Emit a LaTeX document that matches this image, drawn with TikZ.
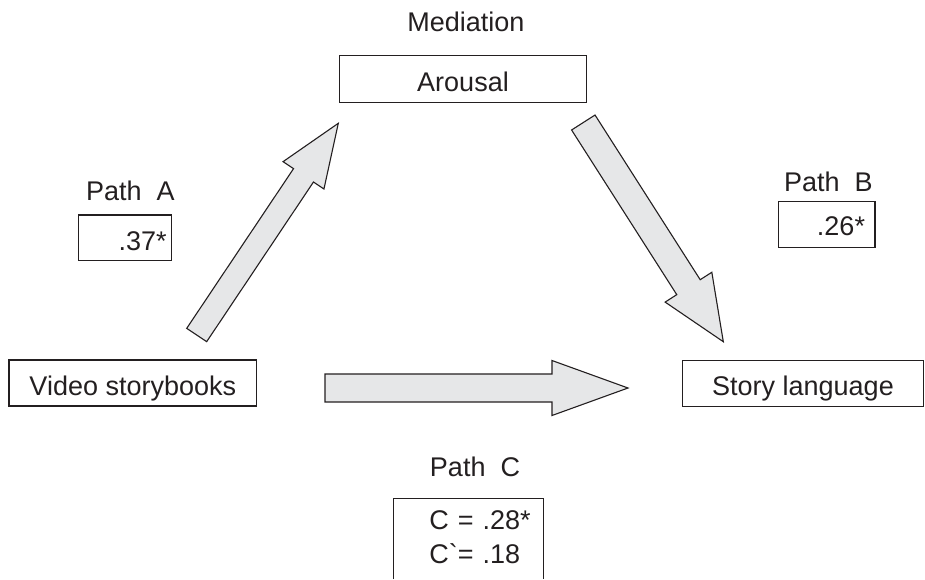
\documentclass[tikz,border=0pt]{standalone}
\usepackage{fontspec}
\setmainfont{Liberation Sans}[Ligatures=TeXOff]
\usetikzlibrary{calc}
\definecolor{arrowfill}{HTML}{E6E7E8}
\definecolor{ink}{HTML}{231F20}
% tail, tip, shaft half-width, head half-width, head length
\newcommand{\blockarrow}[5]{%
  \coordinate (bh) at ($(#2)!#5!(#1)$);
  \draw[blockarr] ($(#1)!#3!90:(#2)$) -- ($(bh)!#3!90:(#2)$) -- ($(bh)!#4!90:(#2)$) -- (#2)
    -- ($(bh)!#4!-90:(#2)$) -- ($(bh)!#3!-90:(#2)$) -- ($(#1)!#3!-90:(#2)$) -- cycle;}
\tikzset{
  every node/.style={font=\fontsize{27pt}{33.3pt}\selectfont, text=ink},
  box/.style={draw=ink, line width=1.3pt, inner sep=0pt},
  boxline/.style={draw=ink, line width=1.3pt},
  lbl/.style={inner sep=0pt, anchor=base},
  blockarr/.style={draw=ink, fill=arrowfill, line width=1.1pt, line join=miter}
}
\begin{document}
\begin{tikzpicture}[x=1pt,y=-1pt]
\useasboundingbox (0,0) rectangle (925,579);
% labels
\node[lbl] (med) at (465.8,31.7) {Mediation};
\node[lbl] (pathA) at (130.3,200) {Path~~A};
\node[lbl] (pathB) at (828.3,191.7) {Path~~B};
\node[lbl] (pathC) at (475,476.7) {Path~~C};
% boxes
\node[box, anchor=base, minimum width=247.7pt, text height=35pt, text depth=11pt] (video) at (132.8,395) {Video storybooks};
\node[box, anchor=base, minimum width=247.4pt, text height=36pt, text depth=10.6pt] (arousal) at (463,91.7) {Arousal};
\node[box, anchor=base, minimum width=240.6pt, text height=34.3pt, text depth=11.7pt] (story) at (803,395) {Story language};
\node[box, anchor=base, text height=35pt, text depth=10.7pt] (valA) at (125,250) {\makebox[93.4pt][r]{.37*\hspace*{5pt}}};
\node[box, anchor=base, text height=33.3pt, text depth=12.3pt] (valB) at (826.65,235) {\makebox[96.7pt][r]{.26*\hspace*{10pt}}};
\node[anchor=north, inner xsep=0pt, inner ysep=12.4pt, text width=149.3pt, align=left] (valC) at (468.65,498.3)
  {\hspace*{35.3pt}C = .28*\\\hspace*{35.3pt}C`= .18};
\coordinate (bot) at (0,579);
\draw[boxline] (valC.north west |- bot) -- (valC.north west) -- (valC.north east) -- (valC.north east |- bot);
% block arrows
\coordinate (aT) at (196.7,335); \coordinate (aP) at (338.3,123.3);
\coordinate (bT) at (583.3,122.5); \coordinate (bP) at (723.3,341.7);
\coordinate (cT) at (325,388); \coordinate (cP) at (628,388);
\blockarrow{aT}{aP}{12pt}{24.6pt}{62.6pt}
\blockarrow{bT}{bP}{13.9pt}{27.7pt}{64.7pt}
\blockarrow{cT}{cP}{14pt}{27.5pt}{76pt}
\end{tikzpicture}
\end{document}
